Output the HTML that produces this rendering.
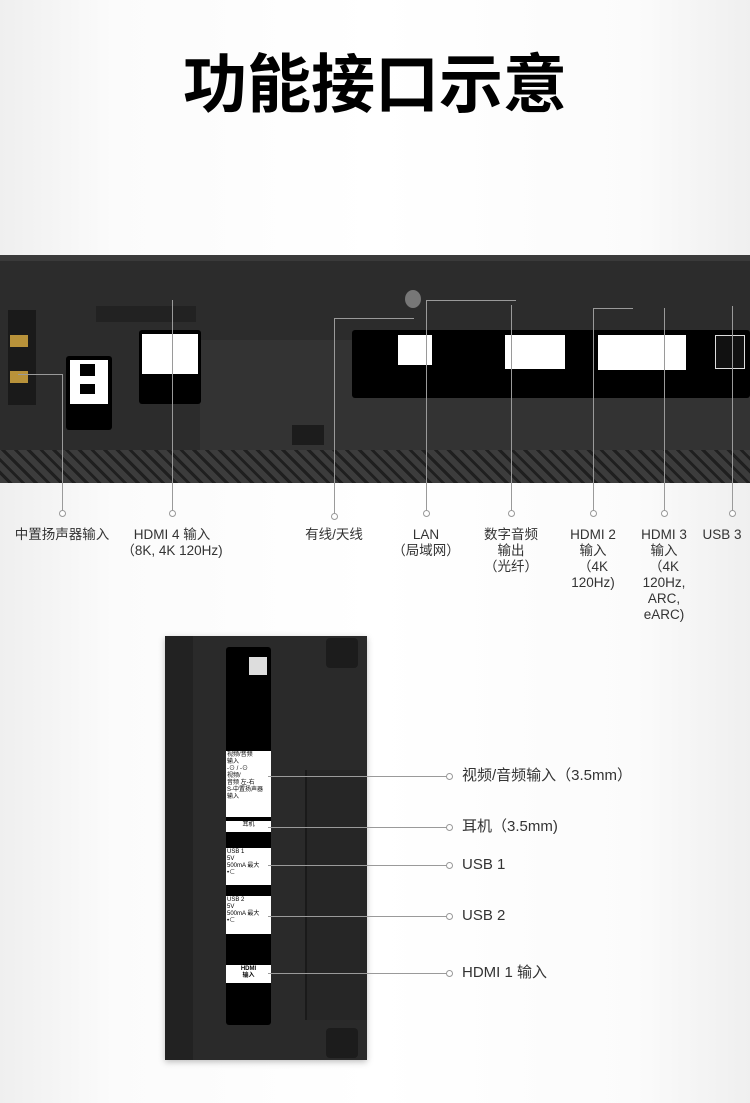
<!DOCTYPE html>
<html><head><meta charset="utf-8"><style>
*{margin:0;padding:0;box-sizing:border-box}
body{width:750px;height:1103px;position:relative;overflow:hidden;background:linear-gradient(90deg,#efefef 0,#fbfbfb 15%,#fff 50%,#fbfbfb 85%,#efefef 100%);font-family:"Liberation Sans","Noto Sans CJK SC",sans-serif;color:#333}
.a{position:absolute}
.t{left:0;width:750px;top:42px;text-align:center;font-size:64px;font-weight:bold;color:#000;line-height:76px;font-family:"Noto Sans CJK SC",sans-serif}
.ln{position:absolute;background:#9a9a9a}
.c{position:absolute;width:7px;height:7px;border:1px solid #999;border-radius:50%;background:#fff}
.lb{position:absolute;font-size:13.5px;line-height:16px;color:#333;text-align:center;white-space:nowrap}
.rl{position:absolute;left:462px;font-size:15px;color:#333;line-height:18px;white-space:nowrap}
.wl{position:absolute;background:#fff;color:#000;font-size:6px;line-height:7px;padding:1px}
</style></head><body>
<div class="a t">功能接口示意</div>

<!-- top panel -->
<div class="a" style="left:0;top:255px;width:750px;height:228px;background:#2c2c2c"></div>
<div class="a" style="left:0;top:255px;width:750px;height:6px;background:#3a3a3a"></div>
<div class="a" style="left:0;top:450px;width:750px;height:33px;background:repeating-linear-gradient(45deg,#3c3c3c 0 6px,#1f1f1f 6px 9px)"></div>
<div class="a" style="left:200px;top:340px;width:590px;height:110px;background:#333"></div>
<div class="a" style="left:8px;top:310px;width:28px;height:95px;background:#1a1a1a"></div>
<div class="a" style="left:10px;top:335px;width:18px;height:12px;background:#b8923a"></div>
<div class="a" style="left:10px;top:371px;width:18px;height:12px;background:#b8923a"></div>
<div class="a" style="left:66px;top:356px;width:46px;height:74px;background:#000;border-radius:3px"></div>
<div class="a" style="left:70px;top:360px;width:38px;height:44px;background:#fff"></div>
<div class="a" style="left:80px;top:364px;width:15px;height:12px;background:#000"></div>
<div class="a" style="left:80px;top:384px;width:15px;height:10px;background:#000"></div>
<div class="a" style="left:139px;top:330px;width:62px;height:74px;background:#000;border-radius:3px"></div>
<div class="a" style="left:142px;top:334px;width:56px;height:40px;background:#fff"></div>
<div class="a" style="left:96px;top:306px;width:100px;height:16px;background:#222"></div>
<div class="a" style="left:352px;top:330px;width:398px;height:68px;background:#000;border-radius:3px"></div>
<div class="a" style="left:398px;top:335px;width:34px;height:30px;background:#fff"></div>
<div class="a" style="left:505px;top:335px;width:28px;height:34px;background:#fff"></div>
<div class="a" style="left:533px;top:335px;width:32px;height:34px;background:#fff"></div>
<div class="a" style="left:598px;top:335px;width:88px;height:35px;background:#fff"></div>
<div class="a" style="left:715px;top:335px;width:30px;height:34px;background:#111;border:1px solid #ddd"></div>
<div class="a" style="left:405px;top:290px;width:16px;height:18px;background:#777;border-radius:50%"></div>
<div class="a" style="left:292px;top:425px;width:32px;height:20px;background:#1c1c1c"></div>

<!-- top connectors -->
<div class="ln" style="left:62px;top:374px;width:1px;height:137px"></div>
<div class="ln" style="left:18px;top:374px;width:44px;height:1px"></div>
<div class="ln" style="left:172px;top:300px;width:1px;height:211px"></div>
<div class="ln" style="left:334px;top:318px;width:1px;height:196px"></div>
<div class="ln" style="left:334px;top:318px;width:80px;height:1px"></div>
<div class="ln" style="left:426px;top:300px;width:1px;height:211px"></div>
<div class="ln" style="left:426px;top:300px;width:90px;height:1px"></div>
<div class="ln" style="left:511px;top:305px;width:1px;height:206px"></div>
<div class="ln" style="left:593px;top:308px;width:1px;height:203px"></div>
<div class="ln" style="left:593px;top:308px;width:40px;height:1px"></div>
<div class="ln" style="left:664px;top:308px;width:1px;height:203px"></div>
<div class="ln" style="left:732px;top:306px;width:1px;height:205px"></div>
<div class="c" style="left:59px;top:510px"></div>
<div class="c" style="left:169px;top:510px"></div>
<div class="c" style="left:331px;top:513px"></div>
<div class="c" style="left:423px;top:510px"></div>
<div class="c" style="left:508px;top:510px"></div>
<div class="c" style="left:590px;top:510px"></div>
<div class="c" style="left:661px;top:510px"></div>
<div class="c" style="left:729px;top:510px"></div>

<div class="lb" style="left:12px;top:527px;width:100px">中置扬声器输入</div>
<div class="lb" style="left:112px;top:527px;width:120px">HDMI 4 输入<br>（8K, 4K 120Hz)</div>
<div class="lb" style="left:294px;top:527px;width:80px">有线/天线</div>
<div class="lb" style="left:386px;top:527px;width:80px">LAN<br>（局域网）</div>
<div class="lb" style="left:471px;top:527px;width:80px">数字音频<br>输出<br>（光纤）</div>
<div class="lb" style="left:553px;top:527px;width:80px">HDMI 2<br>输入<br>（4K<br>120Hz)</div>
<div class="lb" style="left:624px;top:527px;width:80px">HDMI 3<br>输入<br>（4K<br>120Hz,<br>ARC,<br>eARC)</div>
<div class="lb" style="left:697px;top:527px;width:50px">USB 3</div>

<!-- bottom panel -->
<div class="a" style="left:165px;top:636px;width:202px;height:424px;background:#2a2a2a;box-shadow:0 2px 6px rgba(0,0,0,.25)"></div>
<div class="a" style="left:165px;top:636px;width:28px;height:424px;background:#222"></div>
<div class="a" style="left:305px;top:770px;width:62px;height:250px;background:#262626;border-left:2px solid #1a1a1a"></div>
<div class="a" style="left:326px;top:638px;width:32px;height:30px;background:#1c1c1c;border-radius:4px"></div>
<div class="a" style="left:326px;top:1028px;width:32px;height:30px;background:#1c1c1c;border-radius:4px"></div>
<div class="a" style="left:226px;top:647px;width:45px;height:378px;background:#000;border-radius:3px"></div>
<div class="a" style="left:249px;top:657px;width:18px;height:18px;background:#ddd"></div>
<div class="wl" style="left:226px;top:751px;width:45px;height:66px">视频/音频<br>输入<br>-⊙ / -⊙<br>视频/<br>音频 左-右<br>S-中置扬声器<br>输入</div>
<div class="wl" style="left:226px;top:821px;width:45px;height:11px;text-align:center">耳机</div>
<div class="wl" style="left:226px;top:848px;width:45px;height:37px">USB 1<br>5V<br>500mA 最大<br>•⊂</div>
<div class="wl" style="left:226px;top:896px;width:45px;height:38px">USB 2<br>5V<br>500mA 最大<br>•⊂</div>
<div class="wl" style="left:226px;top:965px;width:45px;height:18px;text-align:center;font-weight:bold">HDMI<br>输入</div>

<div class="ln" style="left:268px;top:776px;width:181px;height:1px"></div>
<div class="ln" style="left:268px;top:827px;width:181px;height:1px"></div>
<div class="ln" style="left:268px;top:865px;width:181px;height:1px"></div>
<div class="ln" style="left:268px;top:916px;width:181px;height:1px"></div>
<div class="ln" style="left:268px;top:973px;width:181px;height:1px"></div>
<div class="c" style="left:446px;top:773px"></div>
<div class="c" style="left:446px;top:824px"></div>
<div class="c" style="left:446px;top:862px"></div>
<div class="c" style="left:446px;top:913px"></div>
<div class="c" style="left:446px;top:970px"></div>
<div class="rl" style="top:767px">视频/音频输入（3.5mm）</div>
<div class="rl" style="top:818px">耳机（3.5mm)</div>
<div class="rl" style="top:856px">USB 1</div>
<div class="rl" style="top:907px">USB 2</div>
<div class="rl" style="top:964px">HDMI 1 输入</div>
</body></html>
